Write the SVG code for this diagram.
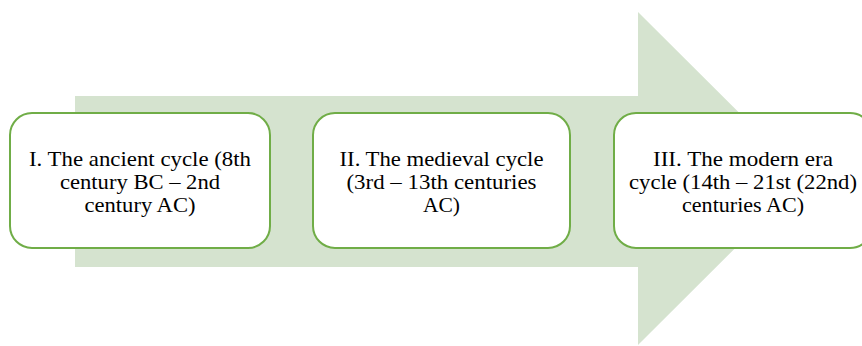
<svg xmlns="http://www.w3.org/2000/svg" width="862" height="346" viewBox="0 0 862 346">
<style>
.box{fill:#ffffff;stroke:#70ad47;stroke-width:2}
.t{font-family:"Liberation Serif","Times New Roman",serif;font-size:21.5px;fill:#000000;text-anchor:middle}
</style>
<rect width="862" height="346" fill="#ffffff"/>
<g id="arrow">
<path d="M75,96 L638,96 L638,12 L805,178.5 L638,345 L638,267 L75,267 Z" fill="#d5e3cf"/>
</g>
<g id="node1">
<rect class="box" x="10" y="113" width="260" height="135" rx="22"/>
<text class="t" x="140" y="166" textLength="222" lengthAdjust="spacingAndGlyphs">I. The ancient cycle (8th</text>
<text class="t" x="140" y="189" textLength="160" lengthAdjust="spacingAndGlyphs">century BC – 2nd</text>
<text class="t" x="140" y="212" textLength="111" lengthAdjust="spacingAndGlyphs">century AC)</text>
</g>
<g id="node2">
<rect class="box" x="313" y="113" width="257" height="135" rx="22"/>
<text class="t" x="441.5" y="166" textLength="204" lengthAdjust="spacingAndGlyphs">II. The medieval cycle</text>
<text class="t" x="441.5" y="189" textLength="190" lengthAdjust="spacingAndGlyphs">(3rd – 13th centuries</text>
<text class="t" x="441.5" y="212" textLength="37" lengthAdjust="spacingAndGlyphs">AC)</text>
</g>
<g id="node3">
<rect class="box" x="614" y="113" width="258" height="135" rx="22"/>
<text class="t" x="743" y="166" textLength="180" lengthAdjust="spacingAndGlyphs">III. The modern era</text>
<text class="t" x="743" y="189" textLength="228" lengthAdjust="spacingAndGlyphs">cycle (14th – 21st (22nd)</text>
<text class="t" x="743" y="212" textLength="122" lengthAdjust="spacingAndGlyphs">centuries AC)</text>
</g>
<g id="connectors"></g>
</svg>
